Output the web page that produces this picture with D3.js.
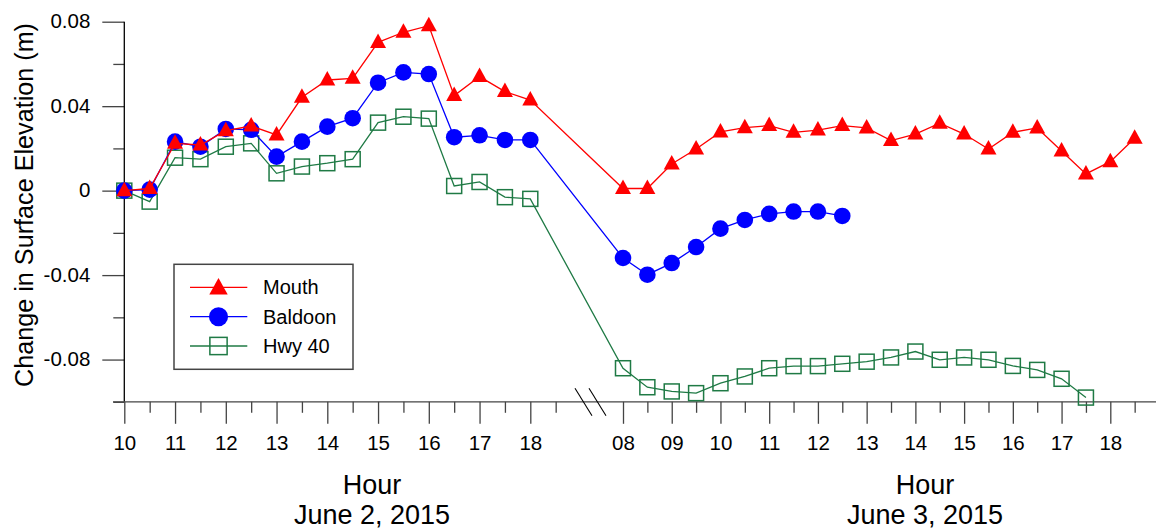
<!DOCTYPE html>
<html>
<head>
<meta charset="utf-8">
<script src="https://cdn.jsdelivr.net/npm/d3@7"></script>
<style>
  body { margin: 0; background: #fff; }
  svg { display: block; font-family: "Liberation Sans", Arial, sans-serif; }
</style>
</head>
<body>
<div id="chart"></div>
<script>
// hours on each day (half-hour readings)
let day1Hours = [10, 10.5, 11, 11.5, 12, 12.5, 13, 13.5, 14, 14.5, 15, 15.5, 16, 16.5, 17, 17.5, 18];
let day2Hours = [8, 8.5, 9, 9.5, 10, 10.5, 11, 11.5, 12, 12.5, 13, 13.5, 14, 14.5, 15, 15.5, 16, 16.5, 17, 17.5, 18, 18.5];

let mouthDay1 = [0.000, 0.001, 0.0224, 0.0216, 0.0284, 0.0306, 0.0264, 0.0442, 0.0524, 0.0532, 0.0702, 0.0750, 0.0781, 0.0450, 0.0540, 0.0469, 0.0429];
let mouthDay2 = [0.001, 0.001, 0.0126, 0.0197, 0.0278, 0.0298, 0.0308, 0.0276, 0.0287, 0.0308, 0.0297, 0.0237, 0.0268, 0.0319, 0.0268, 0.0197, 0.0276, 0.0297, 0.0188, 0.0079, 0.0137, 0.0248];

let baldoonDay1 = [0.000, 0.0005, 0.0232, 0.0208, 0.0292, 0.0288, 0.0161, 0.0232, 0.0303, 0.0343, 0.0511, 0.0560, 0.0552, 0.0253, 0.0262, 0.0240, 0.0240];
let baldoonDay2 = [-0.0319, -0.0398, -0.0343, -0.0267, -0.0180, -0.0139, -0.0110, -0.0099, -0.0099, -0.0120];

let hwyDay1 = [0.000, -0.0052, 0.0156, 0.0149, 0.0208, 0.0224, 0.0082, 0.0114, 0.0130, 0.0149, 0.0322, 0.0350, 0.0341, 0.0022, 0.0041, -0.0031, -0.0039];
let hwyDay2 = [-0.0841, -0.0931, -0.0951, -0.0959, -0.0912, -0.0880, -0.0841, -0.0831, -0.0831, -0.0820, -0.0810, -0.0790, -0.0762, -0.0801, -0.0790, -0.0801, -0.0830, -0.0849, -0.0891, -0.0980];

let yMajorTicks = [0.08, 0.04, 0, -0.04, -0.08];
let yMinorTicks = [0.06, 0.02, -0.02, -0.06, -0.1];
let day1Major = [10, 11, 12, 13, 14, 15, 16, 17, 18];
let day1Minor = [10.5, 11.5, 12.5, 13.5, 14.5, 15.5, 16.5, 17.5, 18.5];
let day2Major = [8, 9, 10, 11, 12, 13, 14, 15, 16, 17, 18];
let day2Minor = [8.5, 9.5, 10.5, 11.5, 12.5, 13.5, 14.5, 15.5, 16.5, 17.5, 18.5];

let seriesNames = ["Mouth", "Baldoon", "Hwy 40"];
let seriesColors = ["#ff0000", "#0000ff", "#1f7a45"];

function main(){
    let width = 1156, height = 531;
    let svg = d3.select("#chart").append("svg")
        .attr("width", width)
        .attr("height", height);

    let yScale = d3.scaleLinear().domain([-0.1, 0.08]).range([401.8, 21.7]);
    let x1 = d3.scaleLinear().domain([10, 18]).range([124.3, 530.3]);
    let x2 = d3.scaleLinear().domain([8, 18]).range([623, 1110.3]);
    let axisY = yScale(-0.1);
    let tickCol = "#444";

    // join the two days into one list of points
    function pts(v1, v2){
        let a = v1.map((v, i) => ({x: x1(day1Hours[i]), y: yScale(v)}));
        let b = v2.map((v, i) => ({x: x2(day2Hours[i]), y: yScale(v)}));
        return a.concat(b);
    }

    // y axis
    let yMajor = svg.append("g")
        .attr("transform", "translate(124.3,0)")
        .call(d3.axisLeft(yScale).tickValues(yMajorTicks).tickSize(22).tickPadding(12)
            .tickFormat(d => d === 0 ? "0" : d3.format(".2f")(d).replace("−", "-")));
    yMajor.select(".domain").remove();
    yMajor.selectAll("line").attr("stroke", tickCol).attr("stroke-width", 1.3);
    yMajor.selectAll("text").attr("font-size", 20.5).attr("fill", "#000")
        .attr("font-family", "Liberation Sans, Arial, sans-serif").attr("dy", "0.3em");

    let yMinor = svg.append("g")
        .attr("transform", "translate(124.3,0)")
        .call(d3.axisLeft(yScale).tickValues(yMinorTicks).tickSize(11).tickFormat(""));
    yMinor.select(".domain").remove();
    yMinor.selectAll("line").attr("stroke", tickCol).attr("stroke-width", 1.3);

    svg.append("line")
        .attr("x1", 124.3).attr("x2", 124.3)
        .attr("y1", yScale(0.08)).attr("y2", axisY)
        .attr("stroke", "#000").attr("stroke-width", 1.3);

    // x axes, one per day
    function xAxis(scale, major, minor, fmt){
        let g = svg.append("g")
            .attr("transform", "translate(0," + axisY + ")")
            .call(d3.axisBottom(scale).tickValues(major).tickSize(22).tickPadding(12).tickFormat(fmt));
        g.select(".domain").remove();
        g.selectAll("line").attr("stroke", tickCol).attr("stroke-width", 1.3);
        g.selectAll("text").attr("font-size", 20.5).attr("fill", "#000")
            .attr("font-family", "Liberation Sans, Arial, sans-serif");
        let m = svg.append("g")
            .attr("transform", "translate(0," + axisY + ")")
            .call(d3.axisBottom(scale).tickValues(minor).tickSize(11).tickFormat(""));
        m.select(".domain").remove();
        m.selectAll("line").attr("stroke", tickCol).attr("stroke-width", 1.3);
    }
    xAxis(x1, day1Major, day1Minor, d3.format("d"));
    xAxis(x2, day2Major, day2Minor, d3.format("02d"));

    svg.append("line")
        .attr("x1", 113).attr("x2", width)
        .attr("y1", axisY).attr("y2", axisY)
        .attr("stroke", tickCol).attr("stroke-width", 1.3);

    // axis break marks
    [575, 589].forEach(bx => {
        svg.append("line")
            .attr("x1", bx).attr("y1", axisY - 13.5)
            .attr("x2", bx + 17).attr("y2", axisY + 14)
            .attr("stroke", "#000").attr("stroke-width", 1.1);
    });

    // axis titles
    [[372, "June 2, 2015"], [925, "June 3, 2015"]].forEach(t => {
        svg.append("text").attr("x", t[0]).attr("y", 494)
            .attr("text-anchor", "middle").attr("font-size", 27).text("Hour");
        svg.append("text").attr("x", t[0]).attr("y", 524)
            .attr("text-anchor", "middle").attr("font-size", 27).text(t[1]);
    });

    svg.append("text")
        .attr("transform", "translate(33,205) rotate(-90)")
        .attr("text-anchor", "middle")
        .attr("font-size", 25.2)
        .text("Change in Surface Elevation (m)");

    // markers
    function triangle(s){
        return "M0," + (-9 * s) + "L" + (8 * s) + "," + (5.5 * s) + "L" + (-8 * s) + "," + (5.5 * s) + "Z";
    }
    function drawMarker(g, kind, x, y, s){
        if (kind === 0){
            g.append("path").attr("d", triangle(s))
                .attr("transform", "translate(" + x + "," + y + ")")
                .attr("fill", seriesColors[0]);
        } else if (kind === 1){
            g.append("circle").attr("cx", x).attr("cy", y).attr("r", 8.3 * s)
                .attr("fill", seriesColors[1]);
        } else {
            let h = 7.5 * s;
            g.append("rect").attr("x", x - h).attr("y", y - h)
                .attr("width", 2 * h).attr("height", 2 * h)
                .attr("fill", "none").attr("stroke", seriesColors[2]).attr("stroke-width", 1.5);
        }
    }

    let series = [
        pts(mouthDay1, mouthDay2),
        pts(baldoonDay1, baldoonDay2),
        pts(hwyDay1, hwyDay2)
    ];

    let line = d3.line().x(d => d.x).y(d => d.y);

    // green first, red on top
    [2, 1, 0].forEach(k => {
        let g = svg.append("g");
        g.append("path")
            .attr("d", line(series[k]))
            .attr("fill", "none")
            .attr("stroke", seriesColors[k])
            .attr("stroke-width", 1.3);
        series[k].forEach(p => drawMarker(g, k, p.x, p.y, 1));
    });

    // legend
    let lg = svg.append("g");
    lg.append("rect")
        .attr("x", 174).attr("y", 264.3)
        .attr("width", 179).attr("height", 105)
        .attr("fill", "#fff").attr("stroke", "#444").attr("stroke-width", 1.5);
    let rowY = [287.3, 316.7, 346];
    seriesNames.forEach((name, k) => {
        lg.append("line")
            .attr("x1", 190).attr("x2", 247.3)
            .attr("y1", rowY[k]).attr("y2", rowY[k])
            .attr("stroke", seriesColors[k]).attr("stroke-width", 1.3);
        drawMarker(lg, k, 218.5, k === 0 ? rowY[k] + 1 : rowY[k], 1.15);
        lg.append("text")
            .attr("x", 263).attr("y", rowY[k])
            .attr("dy", "0.35em")
            .attr("font-size", 20)
            .text(name);
    });
}

main();
</script>
</body>
</html>
